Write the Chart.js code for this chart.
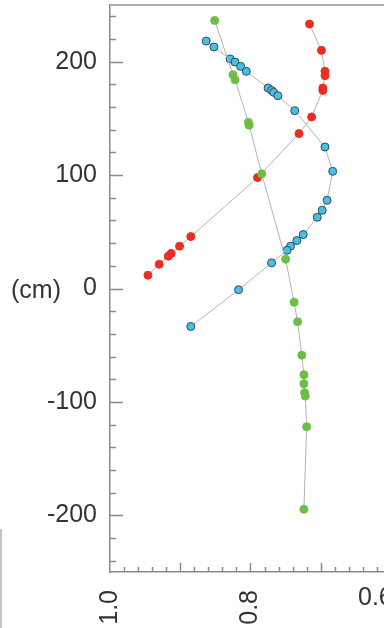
<!DOCTYPE html>
<html>
<head>
<meta charset="utf-8">
<script src="https://cdn.jsdelivr.net/npm/chart.js@4"></script>
<style>
html, body { margin: 0; padding: 0; background: #fff; }
#wrap { position: relative; width: 384px; height: 628px; overflow: hidden; }
#wrap canvas { position: absolute; left: 0; top: 0; }
#edge { position: absolute; left: 0; top: 529px; width: 0; height: 99px; border-left: 2px solid #c4c4c4; }
</style>
</head>
<body>
<div id="wrap">
  <canvas id="profileChart" width="400" height="628"></canvas>
  <div id="edge"></div>
</div>
<script>
// depth (cm) and value for each profile
var depthGreen = [236.4, 188.5, 184.1, 146.5, 144.0, 101.1, 25.8, -12.1, -29.3, -58.8, -76.0, -84.0, -91.9, -94.9, -121.9, -194.7];
var valueGreen = [0.851, 0.825, 0.822, 0.803, 0.802, 0.784, 0.750, 0.738, 0.733, 0.727, 0.724, 0.724, 0.723, 0.722, 0.720, 0.724];

var depthRed = [233.2, 210.0, 191.5, 187.7, 176.8, 174.7, 151.3, 136.6, 97.8, 45.8, 37.3, 30.8, 28.5, 21.4, 11.7];
var valueRed = [0.716, 0.699, 0.694, 0.694, 0.697, 0.697, 0.713, 0.731, 0.790, 0.885, 0.901, 0.913, 0.917, 0.930, 0.946];

var depthBlue = [218.2, 213.0, 202.4, 199.7, 195.9, 191.5, 176.8, 174.7, 173.0, 170.0, 156.8, 124.8, 103.3, 77.8, 69.0, 62.8, 47.6, 42.3, 37.3, 33.7, 22.6, -1.1, -33.5];
var valueBlue = [0.863, 0.852, 0.829, 0.822, 0.814, 0.806, 0.775, 0.770, 0.767, 0.761, 0.737, 0.694, 0.683, 0.691, 0.698, 0.705, 0.725, 0.734, 0.743, 0.748, 0.770, 0.817, 0.885];

var yTickValues = [-200, -100, 0, 100, 200];
var xTickValues = [1.0, 0.8, 0.6];
var yUnitLabel = '(cm)';

function toPoints(xs, ys) {
    return xs.map(function (v, i) { return { x: v, y: ys[i] }; });
}

// inner tick marks, top frame, unit label and the upright 0.6 label
var axisDecor = {
    id: 'axisDecor',
    afterDraw: function (chart) {
        var ctx = chart.ctx, xs = chart.scales.x, ys = chart.scales.y, a = chart.chartArea;
        ctx.save();
        ctx.strokeStyle = '#8a8a8a';
        ctx.lineWidth = 1.5;
        ctx.beginPath();
        for (var v = -240; v <= 240; v += 20) {
            var py = Math.round(ys.getPixelForValue(v)) + 0.5;
            var len = (v % 100 === 0) ? 13 : 6;
            ctx.moveTo(a.left, py);
            ctx.lineTo(a.left + len, py);
        }
        for (var i = 1; i < 20; i++) {
            var px = Math.round(xs.getPixelForValue(1 - i * 0.02)) + 0.5;
            var l2 = (i % 5 === 0) ? 9 : 5;
            ctx.moveTo(px, a.bottom);
            ctx.lineTo(px, a.bottom - l2);
        }
        ctx.stroke();

        ctx.strokeStyle = '#b0b0b0';
        ctx.lineWidth = 2;
        ctx.beginPath();
        ctx.moveTo(a.left, a.top);
        ctx.lineTo(a.right, a.top);
        ctx.stroke();

        ctx.fillStyle = '#333';
        ctx.font = "25px 'Liberation Sans', Arial, sans-serif";
        ctx.textBaseline = 'middle';
        ctx.textAlign = 'left';
        ctx.fillText(yUnitLabel, 11, ys.getPixelForValue(0) + 3);
        ctx.fillText(xTickValues[2].toFixed(1), xs.getPixelForValue(0.6) - 33, a.bottom + 26);
        ctx.restore();
    }
};

Chart.defaults.font.family = "'Liberation Sans', Arial, sans-serif";
Chart.defaults.font.size = 25;
Chart.defaults.color = '#333';

var ctx = document.getElementById('profileChart').getContext('2d');
var myChart = new Chart(ctx, {
    type: 'scatter',
    data: {
        datasets: [{
            label: 'Green',
            data: toPoints(valueGreen, depthGreen),
            showLine: true,
            borderColor: '#b4b4b4',
            borderWidth: 1,
            pointBackgroundColor: '#6cbe45',
            pointBorderColor: '#6cbe45',
            pointBorderWidth: 1,
            pointRadius: 4
        }, {
            label: 'Red',
            data: toPoints(valueRed, depthRed),
            showLine: true,
            borderColor: '#b4b4b4',
            borderWidth: 1,
            pointBackgroundColor: '#eb2d23',
            pointBorderColor: '#eb2d23',
            pointBorderWidth: 1,
            pointRadius: 4
        }, {
            label: 'Blue',
            data: toPoints(valueBlue, depthBlue),
            showLine: true,
            borderColor: '#b4b4b4',
            borderWidth: 1,
            pointBackgroundColor: '#4bbee6',
            pointBorderColor: '#2d4b5a',
            pointBorderWidth: 1,
            pointRadius: 4
        }]
    },
    options: {
        responsive: false,
        animation: false,
        devicePixelRatio: 1,
        layout: { padding: { top: 5, right: 9, left: 0, bottom: 0 } },
        plugins: {
            legend: { display: false },
            tooltip: { enabled: false }
        },
        scales: {
            x: {
                type: 'linear',
                reverse: true,
                min: 0.6,
                max: 1.0,
                afterBuildTicks: function (s) { s.ticks = xTickValues.map(function (v) { return { value: v }; }); },
                afterFit: function (s) { s.height = 56; s.paddingLeft = 0; s.paddingRight = 0; },
                grid: { display: true, drawOnChartArea: false, drawTicks: false },
                border: { display: true, color: '#8a8a8a', width: 1.5 },
                ticks: {
                    autoSkip: false,
                    minRotation: 90,
                    maxRotation: 90,
                    padding: 18,
                    callback: function (v) { return v === 0.6 ? '' : v.toFixed(1); }
                }
            },
            y: {
                type: 'linear',
                min: -250,
                max: 250,
                afterBuildTicks: function (s) { s.ticks = yTickValues.map(function (v) { return { value: v }; }); },
                afterFit: function (s) { s.width = 110; s.paddingTop = 0; s.paddingBottom = 0; },
                grid: { display: true, drawOnChartArea: false, drawTicks: false },
                border: { display: true, color: '#8a8a8a', width: 1.5 },
                ticks: {
                    autoSkip: false,
                    padding: 13,
                    callback: function (v) { return String(v); }
                }
            }
        }
    },
    plugins: [axisDecor]
});
</script>
</body>
</html>
